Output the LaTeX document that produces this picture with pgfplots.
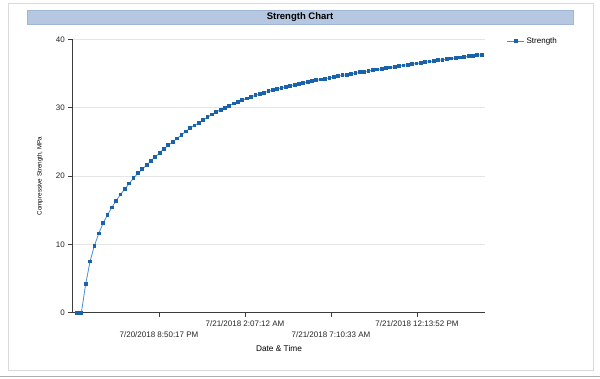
\documentclass[border=0pt]{standalone}
\usepackage{fontspec}
\setmainfont{Liberation Sans}
\usepackage{pgfplots}
\usepackage{pgfplotstable}
\pgfplotsset{compat=1.18}
\definecolor{linec}{HTML}{4A8ED0}
\definecolor{markc}{HTML}{1A62AA}
\definecolor{titlebar}{HTML}{B6C7E1}
\definecolor{titleedge}{HTML}{A2B6D6}
\definecolor{frame}{HTML}{DADADA}
\definecolor{axisc}{HTML}{3C3C3C}
\pgfplotstableread{
x y
77.00 0
81.35 0
85.70 4.2
90.05 7.5
94.40 9.8
98.76 11.6
103.11 13.1
107.46 14.3
111.81 15.4
116.16 16.4
120.52 17.3
124.87 18.1
129.22 18.9
133.57 19.7
137.92 20.4
142.28 21.0
146.63 21.6
150.98 22.2
155.33 22.8
159.68 23.4
164.04 24.0
168.39 24.5
172.74 25.0
177.09 25.5
181.44 26.0
185.80 26.5
190.15 27.0
194.50 27.4
198.85 27.8
203.20 28.2
207.56 28.6
211.91 29.0
216.26 29.35
220.61 29.7
224.96 30.0
229.32 30.3
233.67 30.6
238.02 30.85
242.37 31.1
246.72 31.35
251.08 31.6
255.43 31.8
259.78 32.0
264.13 32.2
268.48 32.4
272.84 32.58
277.19 32.75
281.54 32.9
285.89 33.05
290.24 33.2
294.60 33.35
298.95 33.5
303.30 33.63
307.65 33.76
312.00 33.89
316.36 34.0
320.71 34.12
325.06 34.24
329.41 34.36
333.76 34.48
338.12 34.6
342.47 34.72
346.82 34.83
351.17 34.94
355.52 35.05
359.88 35.16
364.23 35.27
368.58 35.38
372.93 35.48
377.28 35.58
381.64 35.68
385.99 35.78
390.34 35.88
394.69 35.98
399.04 36.08
403.40 36.18
407.75 36.28
412.10 36.38
416.45 36.47
420.80 36.56
425.16 36.65
429.51 36.74
433.86 36.83
438.21 36.92
442.56 37.01
446.92 37.1
451.27 37.18
455.62 37.26
459.97 37.34
464.32 37.42
468.68 37.5
473.03 37.58
477.38 37.66
481.73 37.76
}\strengthdata
\begin{document}
\begin{tikzpicture}[x=1pt,y=1pt]
\useasboundingbox (0,0) rectangle (600,378);
\fill[white] (0,0) rectangle (600,378);
\draw[frame, line width=0.8pt] (8,8) rectangle (593,375);
\draw[frame!80!black, line width=1pt] (0,1.5) -- (600,1.5);
\draw[titleedge, fill=titlebar, line width=0.6pt] (27,354) rectangle (573,368);
\node[font=\fontsize{9.5}{11}\selectfont\bfseries] at (300,361) {Strength Chart};
\begin{axis}[
  at={(72.3pt,65.3pt)}, anchor=south west,
  scale only axis, width=412.7pt, height=273.4pt,
  xmin=72.3, xmax=485, ymin=0, ymax=40,
  axis lines*=left,
  axis line style={axisc, line width=1pt},
  ytick={0,10,20,30,40},
  xtick={245,417},
  xticklabels={7/21/2018 2:07:12 AM, 7/21/2018 12:13:52 PM},
  extra x ticks={159,331},
  extra x tick labels={7/20/2018 8:50:17 PM, 7/21/2018 7:10:33 AM},
  extra x tick style={tick label style={yshift=-11pt}, grid=none},
  tick align=outside, major tick length=4pt,
  tick style={axisc, line width=0.8pt},
  ymajorgrids, grid style={black!10, line width=0.6pt},
  tick label style={font=\fontsize{8}{9}\selectfont, text=black!85},
  /pgf/number format/assume math mode=true,
  xlabel={Date \& Time},
  xlabel style={at={(axis description cs:0.5008,-0.1317)}, anchor=center, font=\fontsize{8.3}{10}\selectfont},
  ylabel={Compressive Strength, MPa},
  ylabel style={at={(axis description cs:-0.078,0.5)}, anchor=center, font=\fontsize{6.3}{7.5}\selectfont},
  legend style={at={(axis description cs:1.045,0.994)}, anchor=west, draw=none, fill=none, font=\fontsize{8}{9}\selectfont},
  clip=false,
]
\addplot[color=linec, line width=0.8pt, mark=square*, mark size=1.4pt, mark options={fill=markc, draw=markc, line width=0pt}] table[x=x,y=y] {\strengthdata};
\addlegendentry{Strength}
\end{axis}
\end{tikzpicture}
\end{document}
